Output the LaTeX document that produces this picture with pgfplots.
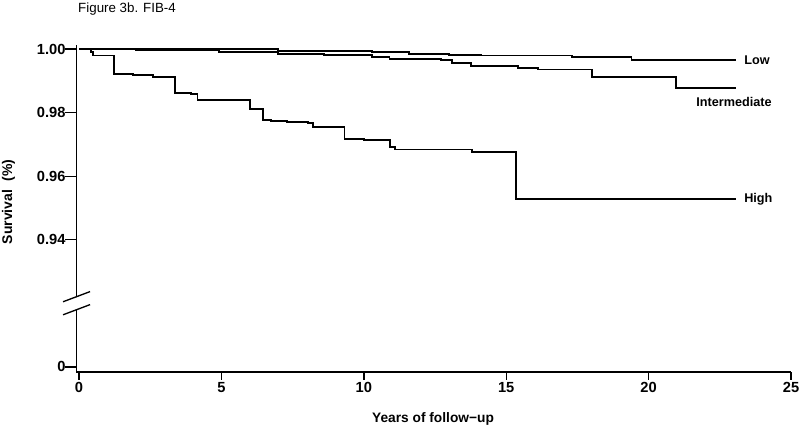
\documentclass[border=0pt]{standalone}
\usepackage{pgfplots}
\pgfplotsset{compat=1.18}
\usepackage{pgfplotstable}
\usepackage{fontspec}
\setmainfont{Liberation Sans}

\pgfplotstableread{
t v
0     1.0000
7.0   0.9994
10.3  0.9990
11.6  0.9985
13.0  0.9982
14.1  0.9980
17.3  0.9976
19.4  0.9965
23.07 0.9965
}\lowtab

\pgfplotstableread{
t v
0     1.0000
2.0   0.9998
4.9   0.9991
7.0   0.9985
8.6   0.9982
10.3  0.9975
10.9  0.9970
12.7  0.9965
13.1  0.9957
13.75 0.9947
15.4  0.9940
16.1  0.9936
18.0  0.9912
20.96 0.9878
23.07 0.9878
}\midtab

\pgfplotstableread{
t v
0     1.0000
0.43  0.9991
0.49  0.9980
1.23  0.9921
1.9   0.9918
2.6   0.9913
3.36  0.9863
3.94  0.9859
4.16  0.9840
6.0   0.9812
6.45  0.9777
6.73  0.9773
7.29  0.9770
8.03  0.9767
8.22  0.9756
9.32  0.9717
10.0  0.9715
10.91 0.9693
11.08 0.9684
13.81 0.9676
15.33 0.9529
23.07 0.9529
}\hightab

\begin{document}
\begin{tikzpicture}
\path[use as bounding box] (-57.375pt,-46.5pt) rectangle (542.625pt,279pt);
\begin{axis}[
  at={(0pt,0pt)}, anchor=south west,
  scale only axis, width=535.9pt, height=245.25pt,
  xmin=-0.09, xmax=25, ymin=0.8984, ymax=1.0013,
  axis x line=bottom, axis y line=left,
  axis line style={-, line width=1pt, black},
  xtick={0,5,10,15,20,25},
  ytick={0.90,0.94,0.96,0.98,1.00},
  yticklabels={0,0.94,0.96,0.98,1.00},
  tick align=outside,
  xtick style={line width=1pt, black, /pgfplots/major tick length=6pt},
  ytick style={line width=1pt, black, /pgfplots/major tick length=8.5pt},
  minor tick num=0,
  /pgf/number format/assume math mode=true,
  ticklabel style={font=\bfseries\fontsize{11}{13}\selectfont},
  yticklabel style={xshift=-0.5pt},
  clip=false,
]
\addplot[const plot, black, line width=1.4pt] table[x=t,y=v] {\lowtab};
\addplot[const plot, black, line width=1.4pt] table[x=t,y=v] {\midtab};
\addplot[const plot, black, line width=1.4pt] table[x=t,y=v] {\hightab};

\node[anchor=west, inner sep=0pt, font=\bfseries\fontsize{9.5}{11}\selectfont] at (axis cs:23.35,0.9965) {Low};
\node[anchor=center, inner sep=0pt, font=\bfseries\fontsize{9.5}{11}\selectfont] at (axis cs:23.0,0.9834) {Intermediate};
\node[anchor=west, inner sep=0pt, font=\bfseries\fontsize{9.5}{11}\selectfont] at (axis cs:23.35,0.9527) {High};

\coordinate (l1a) at (axis cs:-0.562,0.9205);
\coordinate (l1b) at (axis cs:0.386,0.9237);
\coordinate (l2a) at (axis cs:-0.562,0.9164);
\coordinate (l2b) at (axis cs:0.386,0.9196);
\coordinate (w1) at (axis cs:-0.25,0.92140);
\coordinate (w2) at (axis cs:0.08,0.92252);
\coordinate (w3) at (axis cs:0.08,0.91872);
\coordinate (w4) at (axis cs:-0.25,0.91760);
\end{axis}
\fill[white] (w1) -- (w2) -- (w3) -- (w4) -- cycle;
\draw[black, line width=1pt] (l1a) -- (l1b);
\draw[black, line width=1pt] (l2a) -- (l2b);

\node[anchor=west, inner sep=0pt, font=\fontsize{10}{12}\selectfont] at (1.1pt,272.25pt) {Figure 3b. FIB-4};
\node[rotate=90, inner sep=0pt, font=\bfseries\fontsize{10.5}{12}\selectfont] at (-51pt,127.5pt) {Survival\hspace{0.6em}(\%)};
\node[inner sep=0pt, font=\bfseries\fontsize{10.3}{12}\selectfont] at (267.4pt,-35.25pt) {Years of follow−up};
\end{tikzpicture}
\end{document}
